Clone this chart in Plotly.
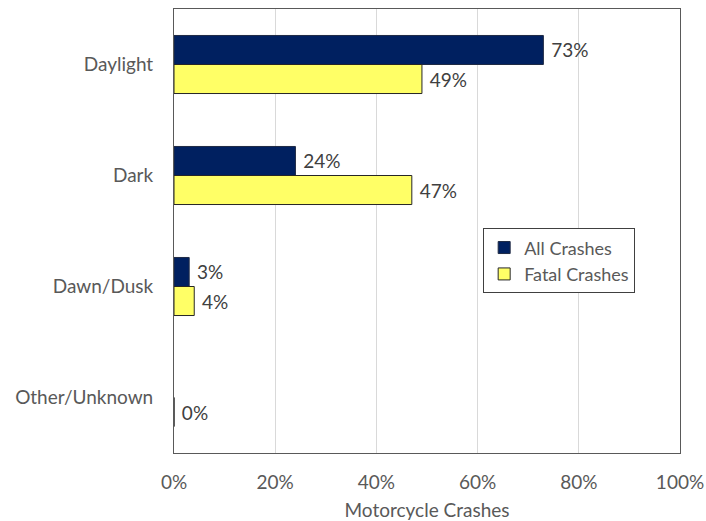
import plotly.graph_objects as go

# Share of motorcycle crashes by light condition
categories = ["Daylight", "Dark", "Dawn/Dusk", "Other/Unknown"]
all_crashes = [73, 24, 3, None]
fatal_crashes = [49, 47, 4, 0]
x_ticks = [0, 20, 40, 60, 80, 100]
x_tick_labels = ["0%", "20%", "40%", "60%", "80%", "100%"]

FONT = "Lato"
TEXT = "#595959"
SIZE = 19

fig = go.Figure()
fig.add_trace(go.Bar(
    y=categories, x=all_crashes, orientation="h", name="All Crashes",
    marker=dict(color="#002060", line=dict(color="#1f2a44", width=1)),
    text=[f" {v}%" if v is not None else "" for v in all_crashes],
    textposition="outside", cliponaxis=False,
    textfont=dict(family=FONT, size=SIZE, color="#404040"),
))
fig.add_trace(go.Bar(
    y=categories, x=fatal_crashes, orientation="h", name="Fatal Crashes",
    marker=dict(color="#FFFF66", line=dict(color="#262626", width=1)),
    text=[f" {v}%" for v in fatal_crashes],
    textposition="outside", cliponaxis=False,
    textfont=dict(family=FONT, size=SIZE, color="#404040"),
))

fig.update_layout(
    width=706, height=521,
    margin=dict(l=174, r=26, t=9, b=68, autoexpand=False),
    paper_bgcolor="white", plot_bgcolor="white",
    barmode="group", bargap=0.477, bargroupgap=0,
    font=dict(family=FONT, size=SIZE, color=TEXT),
    showlegend=True,
    legend=dict(
        x=0.611, y=0.506, xanchor="left", yanchor="top",
        bordercolor="#404040", borderwidth=1, bgcolor="white",
        font=dict(family=FONT, size=18, color=TEXT),
        traceorder="normal", tracegroupgap=0, itemwidth=30,
    ),
    xaxis=dict(
        range=[0, 100], tickvals=x_ticks, ticktext=x_tick_labels,
        showgrid=True, gridcolor="#D9D9D9", gridwidth=1,
        zeroline=False, showline=True, linecolor="#595959", linewidth=1,
        mirror=True, ticks="", ticklabelstandoff=12, automargin=False,
        title=dict(text="Motorcycle Crashes", standoff=15,
                   font=dict(family=FONT, size=SIZE, color=TEXT)),
        tickfont=dict(family=FONT, size=SIZE, color=TEXT),
    ),
    yaxis=dict(
        categoryorder="array", categoryarray=categories,
        autorange="reversed", showgrid=False, zeroline=False,
        showline=True, linecolor="#595959", linewidth=1, mirror=True,
        ticks="", ticklabelstandoff=16, automargin=False,
        tickfont=dict(family=FONT, size=SIZE, color=TEXT),
    ),
)

fig.write_html("out.html")
